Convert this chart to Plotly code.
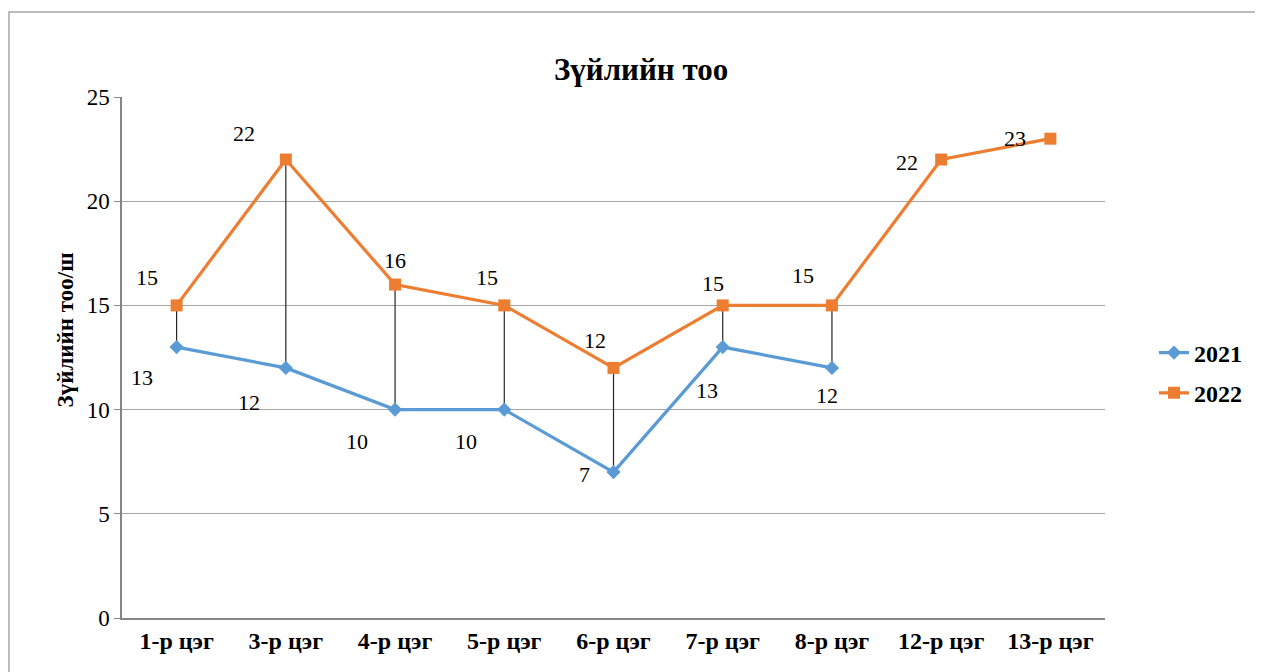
import plotly.graph_objects as go

categories = ["1-р цэг", "3-р цэг", "4-р цэг", "5-р цэг", "6-р цэг", "7-р цэг", "8-р цэг", "12-р цэг", "13-р цэг"]
values_2021 = [13, 12, 10, 10, 7, 13, 12, None, None]
values_2022 = [15, 22, 16, 15, 12, 15, 15, 22, 23]
y_ticks = [0, 5, 10, 15, 20, 25]

# label offsets (pixels) – styling only
off_2022 = [(-30, -28), (-42, -26), (0, -24), (-17, -28), (-19, -27), (-10, -22), (-29, -30), (-34, 3), (-35, 0)]
off_2021 = [(-35, 30), (-37, 35), (-38, 32), (-38, 32), (-29, 2), (-16, 43), (-5, 28), (0, 0), (0, 0)]

PAGE_OFF = 8  # body margin of the html page
W, H = 1263 - PAGE_OFF, 672 - PAGE_OFF
L, T = 122 - PAGE_OFF, 97 - PAGE_OFF
R = W - (1105 - PAGE_OFF)
B = H - (618 - PAGE_OFF)
pw, ph = W - L - R, H - T - B

def px_x(p):
    return (p - PAGE_OFF - L) / pw

def px_y(p):
    return (H - B - (p - PAGE_OFF)) / ph

FONT = "Liberation Serif, Times New Roman, serif"
BLUE = "#5B9BD5"
ORANGE = "#ED7D31"

fig = go.Figure()

# drop lines between the two series
dx, dy = [], []
for c, a, b in zip(categories, values_2021, values_2022):
    if a is not None and b is not None:
        dx += [c, c, None]
        dy += [a, b, None]
fig.add_trace(go.Scatter(x=dx, y=dy, mode="lines", line=dict(color="#262626", width=1.2),
                         showlegend=False, hoverinfo="skip"))

fig.add_trace(go.Scatter(x=categories, y=values_2021, name="2021", mode="lines+markers",
                         line=dict(color=BLUE, width=3.2),
                         marker=dict(symbol="diamond", size=11, color=BLUE),
                         legendgroup="a", connectgaps=False))
fig.add_trace(go.Scatter(x=categories, y=values_2022, name="2022", mode="lines+markers",
                         line=dict(color=ORANGE, width=3.2),
                         marker=dict(symbol="square", size=12, color=ORANGE),
                         legendgroup="b"))

for c, v, (ox, oy) in zip(categories, values_2022, off_2022):
    if v is not None:
        fig.add_annotation(x=c, y=v, text=str(v), showarrow=False, xshift=ox, yshift=-oy,
                           font=dict(family=FONT, size=22, color="black"))
for c, v, (ox, oy) in zip(categories, values_2021, off_2021):
    if v is not None:
        fig.add_annotation(x=c, y=v, text=str(v), showarrow=False, xshift=ox, yshift=-oy,
                           font=dict(family=FONT, size=22, color="black"))

# title and y-axis title
fig.add_annotation(x=px_x(641), y=px_y(50), xref="paper", yref="paper", text="<b>Зүйлийн тоо</b>",
                   showarrow=False, font=dict(family=FONT, size=31, color="black"))
fig.add_annotation(x=px_x(50), y=px_y(330), xref="paper", yref="paper", text="<b>Зүйлийн тоо/ш</b>",
                   textangle=-90, showarrow=False, font=dict(family=FONT, size=23, color="black"))

# chart border
fig.add_shape(type="rect", xref="paper", yref="paper",
              x0=px_x(9), x1=px_x(1300), y0=px_y(700), y1=px_y(12),
              line=dict(color="#a6a6a6", width=1.5), fillcolor="rgba(0,0,0,0)", layer="below")

fig.update_layout(
    width=W, height=H,
    margin=dict(l=L, r=R, t=T, b=B),
    paper_bgcolor="white", plot_bgcolor="white",
    font=dict(family=FONT, color="black"),
    showlegend=True,
    legend=dict(x=px_x(1154), y=px_y(373), xanchor="left", yanchor="middle",
                font=dict(family=FONT, size=24, color="black", weight="bold"),
                tracegroupgap=6, traceorder="grouped", bgcolor="rgba(0,0,0,0)"),
    xaxis=dict(type="category", range=[-0.5, len(categories) - 0.5],
               showgrid=False, showline=True, linecolor="#868686", linewidth=1.5,
               ticks="", tickfont=dict(family=FONT, size=24, color="black", weight="bold"),
               fixedrange=True),
    yaxis=dict(range=[0, 25], tickvals=y_ticks, showgrid=True, gridcolor="#a6a6a6", gridwidth=1.2,
               showline=True, linecolor="#868686", linewidth=1.5, zeroline=False,
               ticks="outside", ticklen=6, tickcolor="#868686",
               tickfont=dict(family=FONT, size=23, color="black"), fixedrange=True),
)

fig.write_html("out.html")
